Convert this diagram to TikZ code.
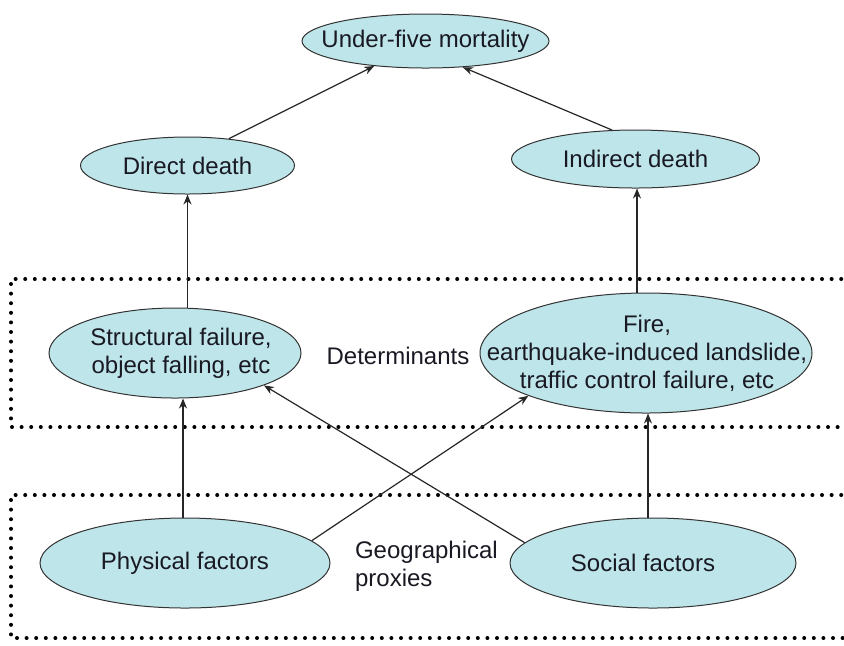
\documentclass[tikz,border=0pt]{standalone}
\usepackage{fontspec}
\setmainfont{Liberation Sans}
\usetikzlibrary{shapes.geometric,arrows.meta}
\definecolor{ellfill}{RGB}{190,229,234}
\definecolor{txt}{RGB}{25,25,35}
\tikzset{
  ell/.style={ellipse,draw=black!80,line width=0.5pt,fill=ellfill,inner sep=0pt},
  lbl/.style={align=center,text=txt,font=\fontsize{12}{14}\selectfont},
  arr/.style={-{Stealth[length=5pt,width=4pt]},line width=0.6pt,draw=black!85},
  dotbox/.style={line width=2pt,line cap=round,dash pattern=on 0pt off 4.8pt}
}
\begin{document}
\begin{tikzpicture}[x=0.5pt,y=-0.5pt]
\useasboundingbox (0,0) rectangle (844,645);
% dotted boxes
\draw[dotbox] (870,279) -- (11,279) -- (11,427) -- (870,427);
\draw[dotbox] (870,495) -- (11,495) -- (11,638) -- (870,638);
% ellipses
\node[ell,minimum width=247\pgflinewidth*0+123.5pt,minimum height=27pt] (u) at (425.5,41)
  {};
\node[lbl] (ut) at (u.center) {Under-five mortality};
\node[ell,minimum width=107pt,minimum height=28.5pt] (d) at (187.5,165.5) {};
\node[lbl] (dt) at (d.center) {Direct death};
\node[ell,minimum width=124pt,minimum height=29pt] (i) at (635.5,159) {};
\node[lbl] (it) at (i.center) {Indirect death};
\node[ell,minimum width=126pt,minimum height=45pt] (s) at (175,353) {};
\node[lbl] (st) at (181,353) {Structural failure,\\object falling, etc};
\node[ell,minimum width=166pt,minimum height=60pt] (f) at (646,353) {};
\node[lbl] (ft) at (647,353) {Fire,\\earthquake-induced landslide,\\traffic control failure, etc};
\node[ell,minimum width=145pt,minimum height=45pt] (p) at (185,563) {};
\node[lbl] (pt) at (p.center) {Physical factors};
\node[ell,minimum width=143pt,minimum height=45pt] (sf) at (653,563) {};
\node[lbl] (sft) at (643,563) {Social factors};
% free labels
\node[lbl] (det) at (398,356) {Determinants};
\node[lbl,align=left,anchor=west] (geo) at (348,566) {Geographical\\proxies};
% arrows
\draw[arr] (d.33) -- (u.206);
\draw[arr] (i.129) -- (u.325);
\draw[arr] (s.north -| d.south) -- (d.south);
\draw[arr] (f.north -| 637,0) -- (i.south -| 637,0);
\draw[arr] (p.north -| 183,0) -- (s.south -| 183,0);
\draw[arr] (sf.north -| 648,0) -- (f.south -| 648,0);
\draw[arr] (p.10) -- (f.200);
\draw[arr] (sf.171) -- (s.340);
\end{tikzpicture}
\end{document}
